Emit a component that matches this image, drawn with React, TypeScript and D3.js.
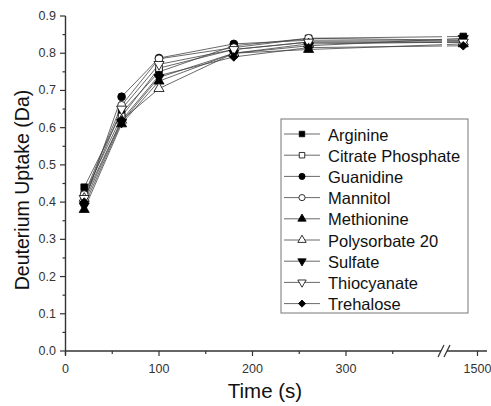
import React from "react";
import * as d3 from "d3";

const times = [20, 60, 100, 180, 260, 1440];
const seriesNames = [
  "Arginine",
  "Citrate Phosphate",
  "Guanidine",
  "Mannitol",
  "Methionine",
  "Polysorbate 20",
  "Sulfate",
  "Thiocyanate",
  "Trehalose",
];
const arginine = [0.44, 0.64, 0.75, 0.82, 0.84, 0.845];
const citratePhosphate = [0.42, 0.63, 0.76, 0.81, 0.83, 0.83];
const guanidine = [0.4, 0.683, 0.787, 0.825, 0.835, 0.835];
const mannitol = [0.42, 0.66, 0.785, 0.815, 0.84, 0.835];
const methionine = [0.38, 0.61, 0.725, 0.8, 0.81, 0.825];
const polysorbate20 = [0.41, 0.62, 0.705, 0.8, 0.825, 0.83];
const sulfate = [0.39, 0.615, 0.735, 0.8, 0.82, 0.84];
const thiocyanate = [0.41, 0.65, 0.77, 0.81, 0.83, 0.83];
const trehalose = [0.4, 0.62, 0.74, 0.79, 0.815, 0.82];
const seriesValues = [
  arginine,
  citratePhosphate,
  guanidine,
  mannitol,
  methionine,
  polysorbate20,
  sulfate,
  thiocyanate,
  trehalose,
];
const markerKinds = ["square", "square", "circle", "circle", "triUp", "triUp", "triDown", "triDown", "diamond"];
const markerFilled = [true, false, true, false, true, false, true, false, true];
const yTicks = [0, 0.1, 0.2, 0.3, 0.4, 0.5, 0.6, 0.7, 0.8, 0.9];
const xTicksLeft = [0, 100, 200, 300];
const xMinorLeft = [50, 150, 250, 350];
const xTicksRight = [1500];

const FONT = "'Liberation Sans', Arial, sans-serif";

function markerPath(kind: string, size: number): { d: string; rot: number } {
  if (kind === "square") return { d: d3.symbol(d3.symbolSquare, size)()!, rot: 0 };
  if (kind === "circle") return { d: d3.symbol(d3.symbolCircle, size)()!, rot: 0 };
  if (kind === "triUp") return { d: d3.symbol(d3.symbolTriangle, size)()!, rot: 0 };
  if (kind === "triDown") return { d: d3.symbol(d3.symbolTriangle, size)()!, rot: 180 };
  return { d: d3.symbol(d3.symbolSquare, size * 0.85)()!, rot: 45 };
}

export default function App() {
  const W = 491;
  const H = 406;
  const xL = d3.scaleLinear().domain([0, 400]).range([65.5, 439.5]);
  const xR = d3.scaleLinear().domain([1380, 1540]).range([449, 487]);
  const xPos = (t: number) => (t > 1000 ? xR(t) : xL(t));
  const y = d3.scaleLinear().domain([0, 0.9]).range([351, 16]);
  const line = d3
    .line<[number, number]>()
    .x((d) => xPos(d[0]))
    .y((d) => y(d[1]));
  const axisColor = "#333";
  const breakL = 441;
  const breakR = 447;

  const legendX = 281;
  const legendY = 119;
  const legendW = 187;
  const legendH = 194;
  const rowH = 21.2;

  return (
    <svg width={W} height={H} style={{ position: "absolute", left: 0, top: 0, background: "#fff" }}>
      {/* series lines */}
      {seriesValues.map((vals, i) => (
        <path
          key={"l" + i}
          d={line(times.map((t, j) => [t, vals[j]] as [number, number]))!}
          fill="none"
          stroke="#444"
          strokeWidth={0.8}
        />
      ))}
      {/* break gap over lines */}
      <rect x={breakL + 1} y={10} width={breakR - breakL - 1} height={335} fill="#fff" />
      {/* markers */}
      {seriesValues.map((vals, i) =>
        times.map((t, j) => {
          const m = markerPath(markerKinds[i], markerKinds[i] === "circle" ? 48 : 44);
          return (
            <path
              key={"m" + i + "-" + j}
              d={m.d}
              transform={`translate(${xPos(t)},${y(vals[j])}) rotate(${m.rot})`}
              fill={markerFilled[i] ? "#000" : "#fff"}
              stroke="#000"
              strokeWidth={0.8}
            />
          );
        })
      )}
      {/* y axis */}
      <line x1={65.5} x2={65.5} y1={16} y2={355} stroke={axisColor} strokeWidth={1.4} />
      {yTicks.map((v) => (
        <g key={"yt" + v}>
          <line x1={60} x2={65.5} y1={y(v)} y2={y(v)} stroke={axisColor} strokeWidth={1.2} />
          <text
            x={56}
            y={y(v)}
            textAnchor="end"
            dominantBaseline="central"
            fontFamily={FONT}
            fontSize={12.5}
            fill="#333"
          >
            {v.toFixed(1)}
          </text>
        </g>
      ))}
      {yTicks.slice(0, -1).map((v) => (
        <line
          key={"ym" + v}
          x1={62.5}
          x2={65.5}
          y1={y(v + 0.05)}
          y2={y(v + 0.05)}
          stroke={axisColor}
          strokeWidth={1.2}
        />
      ))}
      {/* x axis */}
      <line x1={65.5} x2={breakL} y1={351} y2={351} stroke={axisColor} strokeWidth={1.4} />
      <line x1={breakR} x2={487} y1={351} y2={351} stroke={axisColor} strokeWidth={1.4} />
      <line x1={breakL - 3} x2={breakL + 3} y1={357} y2={345} stroke={axisColor} strokeWidth={1.2} />
      <line x1={breakR - 3} x2={breakR + 3} y1={357} y2={345} stroke={axisColor} strokeWidth={1.2} />
      {xTicksLeft.map((v) => (
        <g key={"xt" + v}>
          <line x1={xL(v)} x2={xL(v)} y1={351} y2={356} stroke={axisColor} strokeWidth={1.2} />
          <text x={xL(v)} y={373} textAnchor="middle" fontFamily={FONT} fontSize={12.5} fill="#333">
            {v}
          </text>
        </g>
      ))}
      {xMinorLeft.map((v) => (
        <line key={"xm" + v} x1={xL(v)} x2={xL(v)} y1={351} y2={354} stroke={axisColor} strokeWidth={1.2} />
      ))}
      {xTicksRight.map((v) => (
        <g key={"xr" + v}>
          <line x1={xR(v)} x2={xR(v)} y1={351} y2={356} stroke={axisColor} strokeWidth={1.2} />
          <text x={xR(v)} y={373} textAnchor="middle" fontFamily={FONT} fontSize={12.5} fill="#333">
            {v}
          </text>
        </g>
      ))}
      {/* axis titles */}
      <text x={265} y={398} textAnchor="middle" fontFamily={FONT} fontSize={20.5} fill="#111">
        Time (s)
      </text>
      <text
        transform={`translate(22,190) rotate(-90)`}
        textAnchor="middle"
        dominantBaseline="central"
        fontFamily={FONT}
        fontSize={19.5}
        fill="#111"
      >
        Deuterium Uptake (Da)
      </text>
      {/* legend */}
      <rect x={legendX} y={legendY} width={legendW} height={legendH} fill="#fff" stroke="#777" strokeWidth={1} />
      {seriesNames.map((name, i) => {
        const cy = legendY + 15 + i * rowH;
        const m = markerPath(markerKinds[i], 30);
        return (
          <g key={"lg" + i}>
            <line x1={284} x2={320} y1={cy} y2={cy} stroke="#444" strokeWidth={0.8} />
            <path
              d={m.d}
              transform={`translate(302,${cy}) rotate(${m.rot})`}
              fill={markerFilled[i] ? "#000" : "#fff"}
              stroke="#000"
              strokeWidth={0.8}
            />
            <text x={328} y={cy + 0.5} dominantBaseline="central" fontFamily={FONT} fontSize={16.5} fill="#111">
              {name}
            </text>
          </g>
        );
      })}
    </svg>
  );
}
